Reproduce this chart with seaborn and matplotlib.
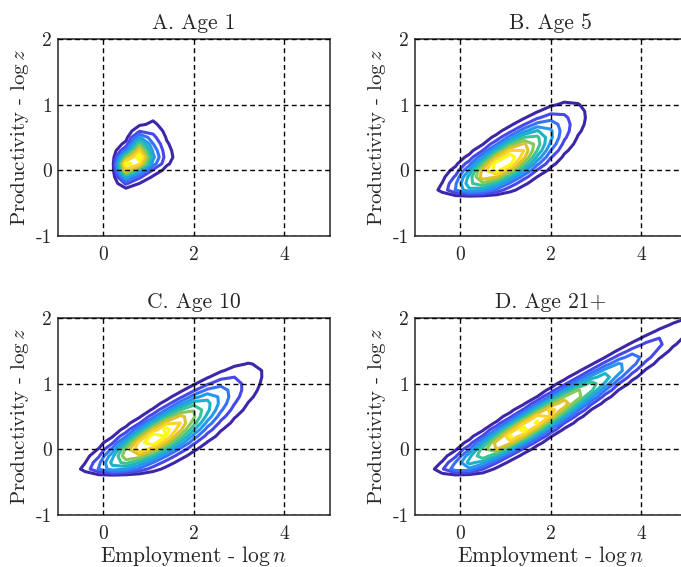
import numpy as np
import matplotlib
matplotlib.use("Agg")
import matplotlib.pyplot as plt
import seaborn as sns

# ---- labels and ticks -------------------------------------------------------
panel_titles = ["A. Age 1", "B. Age 5", "C. Age 10", "D. Age 21+"]
x_label = r"Employment - $\log n$"
y_label = r"Productivity - $\log z$"
x_ticks = [0, 2, 4]
x_tick_labels = ["0", "2", "4"]
y_ticks = [-1, 0, 1, 2]
y_tick_labels = ["-1", "0", "1", "2"]

# ---- joint density of (log n, log z) by cohort age --------------------------
# ridge of the density: log n at log z = 0 and slope of log n in log z
ridge_intercept = [0.52, 0.75, 0.8, 0.72]
ridge_slope = [0.6, 1.6, 1.85, 2.2]
# productivity profile: mode, spread below / above the mode, exit threshold
z_mode = [0.14, 0.1, 0.15, 0.3]
z_sd_low = [0.12, 0.3, 0.33, 0.42]
z_sd_high = [0.165, 0.38, 0.47, 0.7]
z_floor = [-0.3, -0.37, -0.37, -0.37]
# smallest log employment reached by the cohort
n_floor = [0.28, -0.7, -0.7, -0.7]
# spread of log n below / above the ridge
n_sd_left = [0.1, 0.38, 0.38, 0.34]
n_sd_right = [0.225, 0.47, 0.52, 0.35]
# tail exponent of the density (2 = normal, lower = more peaked)
tail_power = [1.3, 1.8, 1.8, 1.8]
n_levels = 10

# state grid on which the density is tabulated
grid_n = np.arange(-1.0, 5.61, 0.3)
grid_z = np.arange(-1.0, 2.21, 0.1)

parula_anchors = ["#3e26a8", "#484df0", "#327cfc", "#20a5e3", "#19bfb6",
                  "#64cd6f", "#d1bf27", "#fccf30", "#f9fb15"]

# ---- style ------------------------------------------------------------------
sns.set_theme(style="white")
plt.rcParams.update({
    "font.family": ["cmr10", "DejaVu Serif"],
    "mathtext.fontset": "cm",
    "axes.unicode_minus": False,
    "axes.formatter.use_mathtext": True,
    "axes.edgecolor": "#262626",
    "axes.linewidth": 1.1,
    "grid.color": "black",
    "grid.linestyle": (0, (3.5, 2.5)),
    "grid.linewidth": 1.0,
})

cmap = sns.blend_palette(parula_anchors, as_cmap=True)
line_colors = [cmap(t) for t in np.linspace(0, 1, n_levels)]

N, Z = np.meshgrid(grid_n, grid_z)


def cohort_density(i):
    p = tail_power[i]
    sd_z = np.where(Z < z_mode[i], z_sd_low[i], z_sd_high[i])
    prof = np.exp(-0.5 * np.abs((Z - z_mode[i]) / sd_z) ** p)
    prof = prof / (1 + np.exp(-(Z - z_floor[i]) / 0.02))
    prof = prof / (1 + np.exp(-(N - n_floor[i]) / 0.04))
    dev = N - (ridge_intercept[i] + ridge_slope[i] * Z)
    sd_n = np.where(dev < 0, n_sd_left[i], n_sd_right[i])
    return prof * np.exp(-0.5 * np.abs(dev / sd_n) ** p)


fig = plt.figure(figsize=(6.81, 5.67), dpi=100)
ax_w, ax_h = 0.3987, 0.3474
positions = [(0.0852, 0.5838), (0.6094, 0.5838),
             (0.0852, 0.0917), (0.6094, 0.0917)]

for i, (left, bottom) in enumerate(positions):
    ax = fig.add_axes([left, bottom, ax_w, ax_h])
    dens = cohort_density(i)
    peak = dens.max()
    levels = peak * np.linspace(0.08, 0.92, n_levels)
    ax.contour(N, Z, dens, levels=levels, colors=line_colors, linewidths=2.2)
    ax.set_xlim(-1, 5)
    ax.set_ylim(-1, 2)
    ax.set_xticks(x_ticks, x_tick_labels)
    ax.set_yticks(y_ticks, y_tick_labels)
    ax.tick_params(axis="x", length=0, labelsize=14, pad=7, colors="#262626")
    ax.tick_params(axis="y", length=0, labelsize=14, pad=4.5, colors="#262626")
    ax.grid(True)
    ax.set_axisbelow(False)
    ax.set_title(panel_titles[i], fontsize=15.5, pad=7)
    ax.set_ylabel(y_label, fontsize=15, labelpad=3)
    if i >= 2:
        ax.set_xlabel(x_label, fontsize=15.5, labelpad=1)
    for sp in ax.spines.values():
        sp.set_visible(True)

fig.savefig("out.png", dpi=100)
